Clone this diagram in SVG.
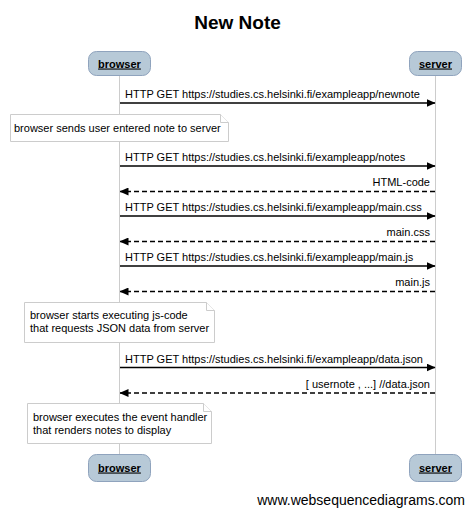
<svg xmlns="http://www.w3.org/2000/svg" width="475" height="515" viewBox="0 0 475 515">
<defs>
<marker id="ah" markerWidth="9" markerHeight="8" refX="8.5" refY="4" orient="auto" markerUnits="userSpaceOnUse">
<path d="M0,0 L9,4 L0,8 Z" fill="#000"/>
</marker>
<style>
text{font-family:"Liberation Sans",Arial,sans-serif;fill:#000}
.title{font-size:19px;font-weight:bold}
.lbl{font-size:11px}
.actor rect{fill:#b7c9d7;stroke:#8fa3bd;stroke-width:1}
.actor text{font-size:11px;font-weight:bold;text-decoration:underline}
.life{stroke:#cccccc;stroke-width:1}
.msg{stroke:#000;stroke-width:1.3;fill:none}
.ret{stroke:#000;stroke-width:1.3;fill:none;stroke-dasharray:5,3}
.note path{fill:#fff;stroke:#cccccc;stroke-width:1}
.foot{font-size:14px}
</style>
</defs>
<rect width="475" height="515" fill="#fff"/>
<text class="title" x="237.5" y="29" text-anchor="middle">New Note</text>

<g id="lifelines">
<line class="life" x1="119.5" y1="75" x2="119.5" y2="454"/>
<line class="life" x1="435.5" y1="75" x2="435.5" y2="454"/>
</g>

<g id="browser-top" class="actor">
<rect x="88.5" y="51.5" width="62" height="24" rx="8"/>
<text x="119.5" y="67.5" text-anchor="middle">browser</text>
</g>
<g id="server-top" class="actor">
<rect x="409.5" y="51.5" width="52" height="24" rx="8"/>
<text x="435.5" y="67.5" text-anchor="middle">server</text>
</g>
<g id="browser-bottom" class="actor">
<rect x="88.5" y="454.5" width="62" height="27" rx="8"/>
<text x="119.5" y="471.5" text-anchor="middle">browser</text>
</g>
<g id="server-bottom" class="actor">
<rect x="409.5" y="454.5" width="52" height="27" rx="8"/>
<text x="435.5" y="471.5" text-anchor="middle">server</text>
</g>

<g id="connectors">
<line class="msg" x1="120" y1="103" x2="435" y2="103" marker-end="url(#ah)"/>
<text class="lbl" x="125" y="98">HTTP GET https://studies.cs.helsinki.fi/exampleapp/newnote</text>

<line class="msg" x1="120" y1="166" x2="435" y2="166" marker-end="url(#ah)"/>
<text class="lbl" x="125" y="161">HTTP GET https://studies.cs.helsinki.fi/exampleapp/notes</text>
<line class="ret" x1="435" y1="191.5" x2="120" y2="191.5" marker-end="url(#ah)"/>
<text class="lbl" x="430" y="186" text-anchor="end">HTML-code</text>

<line class="msg" x1="120" y1="216" x2="435" y2="216" marker-end="url(#ah)"/>
<text class="lbl" x="125" y="211">HTTP GET https://studies.cs.helsinki.fi/exampleapp/main.css</text>
<line class="ret" x1="435" y1="241.5" x2="120" y2="241.5" marker-end="url(#ah)"/>
<text class="lbl" x="430" y="236" text-anchor="end">main.css</text>

<line class="msg" x1="120" y1="266" x2="435" y2="266" marker-end="url(#ah)"/>
<text class="lbl" x="125" y="261">HTTP GET https://studies.cs.helsinki.fi/exampleapp/main.js</text>
<line class="ret" x1="435" y1="291.5" x2="120" y2="291.5" marker-end="url(#ah)"/>
<text class="lbl" x="430" y="286" text-anchor="end">main.js</text>

<line class="msg" x1="120" y1="367.5" x2="435" y2="367.5" marker-end="url(#ah)"/>
<text class="lbl" x="125" y="362.5">HTTP GET https://studies.cs.helsinki.fi/exampleapp/data.json</text>
<line class="ret" x1="435" y1="393" x2="120" y2="393" marker-end="url(#ah)"/>
<text class="lbl" x="430" y="388" text-anchor="end">[ usernote , ...] //data.json</text>
</g>

<g id="note1" class="note">
<path d="M10.5,114.5 H220.5 L228.5,122.5 V141.5 H10.5 Z"/>
<path d="M220.5,114.5 V122.5 H228.5" fill="none"/>
<text class="lbl" x="14" y="131.5">browser sends user entered note to server</text>
</g>
<g id="note2" class="note">
<path d="M24.5,302.5 H206.5 L214.5,310.5 V342.5 H24.5 Z"/>
<path d="M206.5,302.5 V310.5 H214.5" fill="none"/>
<text class="lbl" x="30" y="319">browser starts executing js-code</text>
<text class="lbl" x="30" y="332">that requests JSON data from server</text>
</g>
<g id="note3" class="note">
<path d="M27.5,403.5 H203.5 L211.5,411.5 V443.5 H27.5 Z"/>
<path d="M203.5,403.5 V411.5 H211.5" fill="none"/>
<text class="lbl" x="33" y="420.5">browser executes the event handler</text>
<text class="lbl" x="33" y="433.5">that renders notes to display</text>
</g>

<text class="foot" x="465" y="505" text-anchor="end">www.websequencediagrams.com</text>
</svg>
